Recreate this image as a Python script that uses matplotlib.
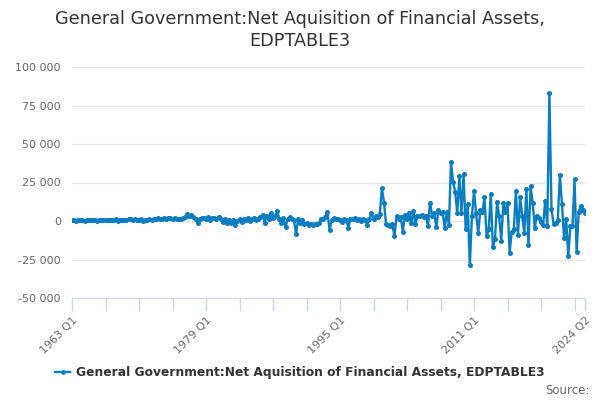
import numpy as np
import matplotlib
matplotlib.use("Agg")
import matplotlib.pyplot as plt
from matplotlib.ticker import FuncFormatter

# quarterly series, 1963 Q1 .. 2024 Q2
values_1963_1978 = [
    500, 800, 300, 600,  400, 700, -300, 500,  600, 900, 400, 700,
    300, 800, 500, 600,  700, 400, 900, 500,  600, 1000, 300, 800,
    500, 900, 700, 1200,  1500, 900, 1300, 700,  400, 1000, 200, 700,
    900, 1300, 600, 1100,  1500, 1800, 1200, 1600,  1900, 1500, 2100, 1700,
    1400, 1800, 1100, 1600,  1500, 1800, 2500, 4500,  3000, 4000, 2500, 1000,
    -1500, 1500, 2000, 1800,
]
values_1979_1994 = [
    1200, 2500, 500, 1800,  2200, 1000, 2800, 1500,  -500, 1200, -1500, 800,
    -1000, 500, -2500, 300,  1000, -500, 1500, 800,  1800, 300, 1200, 2000,
    500, 1500, 2500, 3900,  -1000, 3500, 1000, 5000,  2000, 3000, 6500, 1500,
    -1500, 2000, -3700, 1000,  2500, 1000, 500, -8500,  1500, -1000, 500, -2000,
    -1500, -2500, -2000, -2500,  -1800, -2200, -1500, 1000,  1500, 2500, 5800, -5800,
    500, 1800, 1000, 1500,
]
values_1995_2007 = [
    500, -500, 1000, 800,  -4500, 1500, 1000, 1800,  500, 1200, 200, 1500,
    800, -2600, 1000, 5400,  1500, 3000, 2500, 4500,
    21500, 12000, -2000, -2500,  -3000, -2000, -10000, 3000,  1000, 2500, -7000, 4000,
    1500, 5000, -1500, 6500,  -2000, 3000, 3500, 4000,  2500, 3500, -3200, 12000,
    3500, 5000, -4000, 7000,  5500, 6000, -4500, 5800,
]
values_2008_2024 = [
    -2600, 38000, 25500, 19000,  5000, 29500, 5000, 30500,  -5000, 11000, -28500, 3000,
    19500, 5000, -8000, 7000,  6000, 15500, -10000, -5500,  17500, -17000, -12000, 12500,
    3000, -13000, 11500, 6000,  12000, -21000, -7000, -5500,  19500, -9000, 15500, 3500,
    -8000, 21000, -15500, 22500,  12000, -4500, 3500, 2000,  -500, -2600, 13000, -3000,
    83000, 7500, -1800, -1500,  500, 30000, 11000, -11000,  1500, -23000, -3500, -3500,
    27000, -20000, 6000, 9500,  7000, 5000,
]
values = values_1963_1978 + values_1979_1994 + values_1995_2007 + values_2008_2024

start_year = 1963
quarters = [f"{start_year + k // 4} Q{k % 4 + 1}" for k in range(len(values))]
label_quarters = ["1963 Q1", "1979 Q1", "1995 Q1", "2011 Q1", "2024 Q2"]
y_ticks = [-50000, -25000, 0, 25000, 50000, 75000, 100000]

series_name = "General Government:Net Aquisition of Financial Assets, EDPTABLE3"
title = "General Government:Net Aquisition of Financial Assets,\nEDPTABLE3"

blue = "#0b7dc1"
grid_col = "#e6e6e6"
axis_col = "#ccd6eb"
txt_col = "#666666"

fig = plt.figure(figsize=(6, 4), dpi=100)
ax = fig.add_axes([0.12, 0.255, 0.855, 0.5775])

x = np.arange(len(values))
ax.plot(x, values, color=blue, lw=1.7, marker="o", ms=2.6, mec=blue, mfc=blue, zorder=3)

ax.set_xlim(0, len(values) - 1)
ax.set_ylim(y_ticks[0], y_ticks[-1])
ax.set_yticks(y_ticks)
ax.yaxis.set_major_formatter(FuncFormatter(lambda v, p: f"{int(v):,}".replace(",", " ")))
ax.grid(axis="y", color=grid_col, lw=1)
ax.set_axisbelow(True)

# ticks every 16 quarters plus the last one, labels only on some
tick_pos = list(range(0, len(values), 16)) + [len(values) - 1]
ax.set_xticks(tick_pos)
ax.set_xticklabels([quarters[p] if quarters[p] in label_quarters else "" for p in tick_pos],
                   rotation=45, ha="right", rotation_mode="anchor")

for s in ["top", "right", "left"]:
    ax.spines[s].set_visible(False)
ax.spines["bottom"].set_color(axis_col)
ax.tick_params(axis="x", colors=axis_col, length=9, width=1, labelcolor=txt_col, labelsize=8)
ax.tick_params(axis="y", length=0, labelcolor=txt_col, labelsize=8, pad=8)

fig.text(0.5, 0.925, title, ha="center", va="center", fontsize=12.7, color="#333333",
         linespacing=1.35)

fig.legend([ax.lines[0]], [series_name], loc="center", bbox_to_anchor=(0.5, 0.068),
           frameon=False, prop={"weight": "bold", "size": 8.85}, labelcolor="#333333",
           handlelength=1.2, handletextpad=0.5, markerscale=0.9)

fig.text(0.982, 0.025, "Source:", ha="right", va="center", fontsize=8.5, color=txt_col)

fig.savefig("out.png", dpi=100)
